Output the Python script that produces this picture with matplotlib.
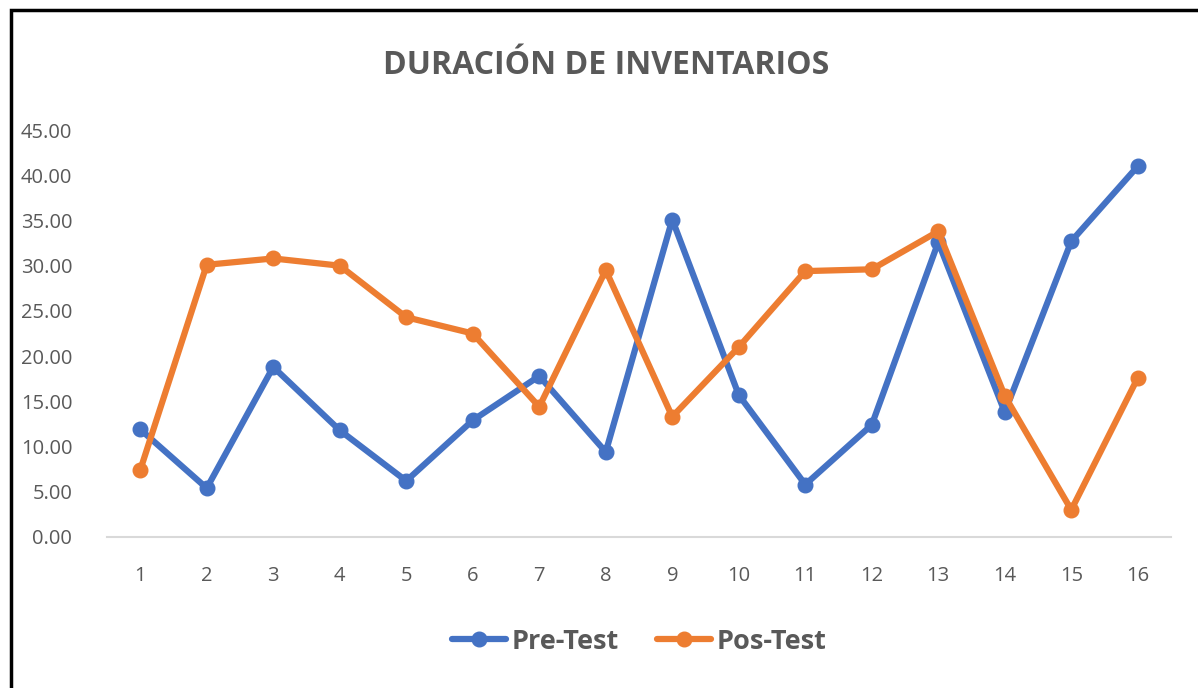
import matplotlib.pyplot as plt
from matplotlib.patches import Rectangle

# ----------------------------------
# DATA
# ----------------------------------

muestras = list(range(1, 17))

pre_test = [11.9, 5.4, 18.8, 11.8, 6.2, 12.9, 17.8, 9.4,
            35.1, 15.7, 5.8, 12.4, 32.6, 13.8, 32.7, 41.0]

pos_test = [7.4, 30.1, 30.8, 30.0, 24.3, 22.5, 14.4, 29.5,
            13.3, 21.0, 29.4, 29.6, 33.8, 15.6, 3.0, 17.6]

y_ticks = [0, 5, 10, 15, 20, 25, 30, 35, 40, 45]

# ----------------------------------
# PLOT
# ----------------------------------

plt.rcParams["font.family"] = ["Open Sans", "DejaVu Sans"]

gris = "#595959"
azul = "#4472C4"
naranja = "#ED7D31"

fig = plt.figure(figsize=(11.98, 6.88), dpi=100)
ax = fig.add_axes([0.0893, 0.2195, 0.8882, 0.5915])

ax.plot(muestras, pre_test, color=azul, linewidth=4.5,
        marker="o", markersize=10.5, label="Pre-Test",
        solid_capstyle="round", solid_joinstyle="round")
ax.plot(muestras, pos_test, color=naranja, linewidth=4.5,
        marker="o", markersize=10.5, label="Pos-Test",
        solid_capstyle="round", solid_joinstyle="round")

ax.set_xlim(0.5, 16.5)
ax.set_ylim(0, 45)
ax.set_xticks(muestras)
ax.set_yticks(y_ticks)
ax.set_yticklabels([f"{v:.2f}" for v in y_ticks])

for side in ["top", "right", "left"]:
    ax.spines[side].set_visible(False)
ax.spines["bottom"].set_color("#D9D9D9")
ax.spines["bottom"].set_linewidth(1.5)

ax.tick_params(axis="both", length=0, labelsize=14.5, colors=gris)
ax.tick_params(axis="x", pad=21)
ax.tick_params(axis="y", pad=25)

fig.text(0.506, 0.905, "DURACIÓN DE INVENTARIOS", ha="center", va="center",
         fontsize=23, fontweight="bold", color=gris)

leg = ax.legend(loc="center", bbox_to_anchor=(0.5, -0.258), ncol=2,
                frameon=False, fontsize=19.5, handlelength=2.0,
                columnspacing=1.4, handletextpad=0.2)
for txt in leg.get_texts():
    txt.set_color(gris)
    txt.set_fontweight("bold")

fig.patches.append(Rectangle((0.009, -0.05), 1.1, 1.035,
                             transform=fig.transFigure, fill=False,
                             edgecolor="black", linewidth=2.5))

fig.savefig("out.png", dpi=100)
